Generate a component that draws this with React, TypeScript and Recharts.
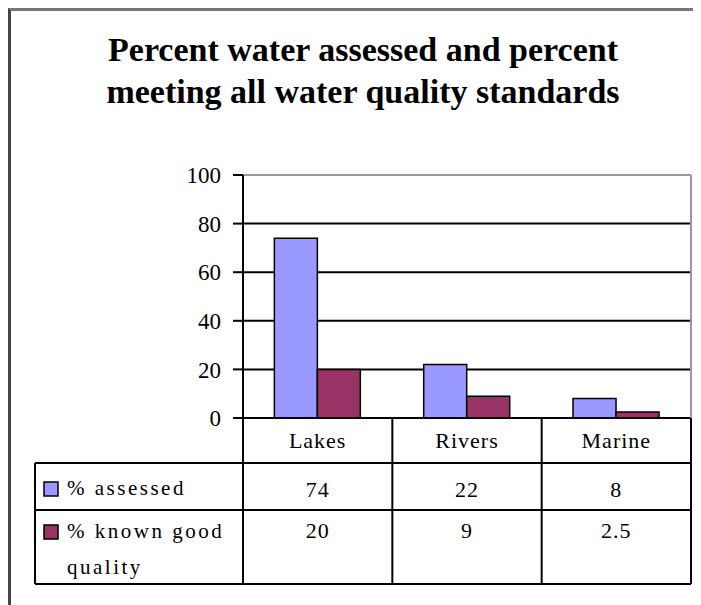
import { BarChart, Bar, XAxis, YAxis, CartesianGrid, ReferenceLine } from 'recharts';

const categories = ['Lakes', 'Rivers', 'Marine'];
const assessed = [74, 22, 8];
const knownGood = [20, 9, 2.5];
const seriesNames = ['% assessed', '% known good quality'];
const yTicks = [0, 20, 40, 60, 80, 100];

const chartData = categories.map((name, i) => ({
  name,
  assessed: assessed[i],
  knownGood: knownGood[i],
}));

const W = 693;
const H = 597;
const MARGIN = { top: 167, right: 10, bottom: 21, left: 0 };
const Y_W = 235;
const X_H = 166;
const PLOT_W = W - MARGIN.right - Y_W;
const PLOT_H = H - MARGIN.top - MARGIN.bottom - X_H;
const BAND = PLOT_W / categories.length;
const TABLE_LEFT = 27;
const PLOT_RIGHT = W - MARGIN.right;

const BLUE = '#9999FF';
const MAROON = '#993366';
const FONT = '"Liberation Serif", "DejaVu Serif", serif';

const txt = { fontFamily: FONT, fontSize: 22, fill: '#000', letterSpacing: 1 };
const legendTxt = { ...txt, fontSize: 21, letterSpacing: 2.5 };

function TableTick(props: any) {
  const { x, y, index } = props;
  const left = x - BAND / 2;
  const right = x + BAND / 2;
  const last = index === categories.length - 1;

  return (
    <g>
      {index === 0 && (
        <g>
          <line x1={TABLE_LEFT} x2={PLOT_RIGHT} y1={y + 45} y2={y + 45} stroke="#000" strokeWidth={2} />
          <line x1={TABLE_LEFT} x2={PLOT_RIGHT} y1={y + 92} y2={y + 92} stroke="#000" strokeWidth={2} />
          <line x1={TABLE_LEFT} x2={PLOT_RIGHT} y1={y + X_H} y2={y + X_H} stroke="#000" strokeWidth={2} />
          <line x1={TABLE_LEFT} x2={TABLE_LEFT} y1={y + 45} y2={y + X_H} stroke="#000" strokeWidth={2} />
          <rect x={TABLE_LEFT + 9} y={y + 64} width={14} height={14} fill={BLUE} stroke="#000" strokeWidth={1.5} />
          <text x={TABLE_LEFT + 32} y={y + 70} dominantBaseline="central" style={legendTxt}>{seriesNames[0]}</text>
          <rect x={TABLE_LEFT + 9} y={y + 107} width={14} height={14} fill={MAROON} stroke="#000" strokeWidth={1.5} />
          <text x={TABLE_LEFT + 32} y={y + 113} dominantBaseline="central" style={legendTxt}>% known good</text>
          <text x={TABLE_LEFT + 32} y={y + 149} dominantBaseline="central" style={legendTxt}>quality</text>
        </g>
      )}
      <line x1={left} x2={left} y1={y} y2={y + X_H} stroke="#000" strokeWidth={2} />
      {last && (
        <g>
          <line x1={right} x2={right} y1={y - PLOT_H} y2={y} stroke="#999" strokeWidth={2} />
          <line x1={right} x2={right} y1={y} y2={y + X_H} stroke="#000" strokeWidth={2} />
        </g>
      )}
      <text x={x} y={y + 22} textAnchor="middle" dominantBaseline="central" style={txt}>{categories[index]}</text>
      <text x={x} y={y + 71} textAnchor="middle" dominantBaseline="central" style={txt}>{String(assessed[index])}</text>
      <text x={x} y={y + 112} textAnchor="middle" dominantBaseline="central" style={txt}>{String(knownGood[index])}</text>
    </g>
  );
}

export default function App() {
  return (
    <div style={{ position: 'relative', width: W, height: H, overflow: 'hidden', background: '#fff' }}>
      <div
        style={{
          position: 'absolute',
          left: 0,
          top: 0,
          width: 800,
          height: 800,
          borderLeft: '3px solid #444',
          borderTop: '3px solid #777',
        }}
      />
      <div
        style={{
          position: 'absolute',
          left: 0,
          top: 21,
          width: 710,
          textAlign: 'center',
          fontFamily: FONT,
          fontWeight: 'bold',
          fontSize: 34,
          lineHeight: '42px',
          color: '#000',
        }}
      >
        Percent water assessed and percent
        <br />
        meeting all water quality standards
      </div>
      <BarChart
        width={W}
        height={H}
        data={chartData}
        margin={MARGIN}
        barCategoryGap="21%"
        barGap={0}
        style={{ position: 'absolute', left: 0, top: 0 }}
      >
        <CartesianGrid vertical={false} stroke="#000" strokeWidth={2} />
        <ReferenceLine y={100} stroke="#999" strokeWidth={2} />
        <YAxis
          width={Y_W}
          domain={[0, 100]}
          ticks={yTicks}
          interval={0}
          axisLine={{ stroke: '#000', strokeWidth: 2 }}
          tickLine={{ stroke: '#000', strokeWidth: 2 }}
          tickSize={10}
          tickMargin={12}
          tick={{ fontFamily: FONT, fontSize: 23, fill: '#000' }}
        />
        <XAxis
          dataKey="name"
          height={X_H}
          interval={0}
          axisLine={{ stroke: '#000', strokeWidth: 2 }}
          tickLine={false}
          tickSize={0}
          tickMargin={0}
          tick={<TableTick />}
        />
        <Bar dataKey="assessed" name={seriesNames[0]} fill={BLUE} stroke="#000" strokeWidth={1.5} isAnimationActive={false} />
        <Bar dataKey="knownGood" name={seriesNames[1]} fill={MAROON} stroke="#000" strokeWidth={1.5} isAnimationActive={false} />
      </BarChart>
    </div>
  );
}
